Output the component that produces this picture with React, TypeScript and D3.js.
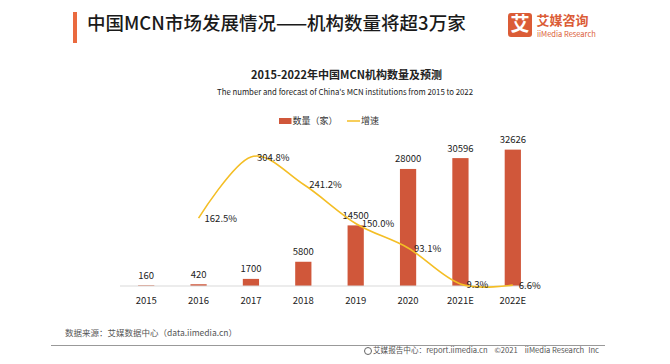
import React from "react";
import * as d3 from "d3";

const years = ["2015", "2016", "2017", "2018", "2019", "2020", "2021E", "2022E"];
const counts = [160, 420, 1700, 5800, 14500, 28000, 30596, 32626];
const growth: (number | null)[] = [null, 162.5, 304.8, 241.2, 150.0, 93.1, 9.3, 6.6];
const growthLabels = ["", "162.5%", "304.8%", "241.2%", "150.0%", "93.1%", "9.3%", "6.6%"];

const W = 670;
const H = 364;
const FONT = '"Noto Sans CJK SC", "Noto Sans", sans-serif';
const BAR = "#D0573A";
const LINE = "#F4BE25";
const BRAND = "#DB5C36";

export default function App() {
  // scales
  const x = d3.scaleBand<string>().domain(years).range([120, 539]).padding(0);
  const yBar = d3.scaleLinear().domain([0, 35000]).range([286, 139.7]);
  const yLine = d3.scaleLinear().domain([0, 350]).range([288, 137.5]);
  const cx = (d: string) => (x(d) as number) + x.bandwidth() / 2;
  const barW = x.bandwidth() * 0.31;

  const pts = years.map((y, i) => ({ y, v: growth[i] }));
  const line = d3
    .line<{ y: string; v: number | null }>()
    .defined((d) => d.v != null)
    .x((d) => cx(d.y))
    .y((d) => yLine(d.v as number))
    .curve(d3.curveCatmullRom.alpha(0));

  return (
    <svg
      width={W}
      height={H}
      style={{ position: "absolute", left: 0, top: 0, background: "#fff" }}
      fontFamily={FONT}
    >
      {/* header */}
      <rect x={73} y={12} width={4} height={31} fill="#EA6A3F" />
      <text x={87} y={25} dominantBaseline="middle" fontSize={18.5} fontWeight={500} fill="#1a1a1a">
        中国MCN市场发展情况——机构数量将超3万家
      </text>
      <rect x={508} y={13} width={24} height={24} rx={3} fill={BRAND} />
      <text x={520} y={26} textAnchor="middle" dominantBaseline="middle" fontSize={19} fontWeight={700} fill="#fff">
        艾
      </text>
      <text x={536.5} y={21} dominantBaseline="middle" fontSize={13} fontWeight={700} fill={BRAND}>
        艾媒咨询
      </text>
      <text x={537} y={34.5} dominantBaseline="middle" fontSize={7.5} fill={BRAND}>
        iiMedia Research
      </text>

      {/* chart titles */}
      <text x={346.5} y={76} textAnchor="middle" dominantBaseline="middle" fontSize={11} fontWeight={700} fill="#222">
        2015-2022年中国MCN机构数量及预测
      </text>
      <text
        x={345}
        y={92.7}
        textAnchor="middle"
        dominantBaseline="middle"
        fontSize={8.2}
        fill="#222"
        textLength={256}
        lengthAdjust="spacingAndGlyphs"
      >
        The number and forecast of China's MCN institutions from 2015 to 2022
      </text>

      {/* legend */}
      <rect x={279} y={118} width={12.5} height={6} fill={BAR} />
      <text x={292.5} y={121.3} dominantBaseline="middle" fontSize={9} fill="#333">
        数量（家）
      </text>
      <line x1={347} x2={360} y1={121} y2={121} stroke={LINE} strokeWidth={1.5} />
      <text x={361} y={121.3} dominantBaseline="middle" fontSize={9} fill="#333">
        增速
      </text>

      {/* bars */}
      {years.map((y, i) => (
        <rect
          key={y}
          x={cx(y) - barW / 2}
          y={yBar(counts[i])}
          width={barW}
          height={yBar(0) - yBar(counts[i])}
          fill={BAR}
        />
      ))}
      <line x1={120} x2={539} y1={286} y2={286} stroke="#D9D9D9" strokeWidth={1} />
      {years.map((y, i) => (
        <text key={"c" + y} x={cx(y)} y={yBar(counts[i]) - 6.5} textAnchor="middle" fontSize={9.5} fill="#222">
          {counts[i]}
        </text>
      ))}

      {/* growth line */}
      <path d={line(pts) || ""} fill="none" stroke={LINE} strokeWidth={1.6} />
      {pts.map((p, i) =>
        p.v == null ? null : (
          <text
            key={"g" + p.y}
            x={cx(p.y) + 6}
            y={yLine(p.v) + 1}
            dominantBaseline="middle"
            fontSize={9.5}
            fill="#222"
          >
            {growthLabels[i]}
          </text>
        )
      )}

      {/* x axis labels */}
      {years.map((y) => (
        <text key={"x" + y} x={cx(y)} y={301} textAnchor="middle" dominantBaseline="middle" fontSize={9.5} fill="#222">
          {y}
        </text>
      ))}

      {/* footer */}
      <text x={65} y={334} dominantBaseline="middle" fontSize={8.5} fill="#555">
        数据来源：艾媒数据中心（data.iimedia.cn）
      </text>
      <line x1={51} x2={605} y1={345.5} y2={345.5} stroke="#999" strokeWidth={1} />
      <circle cx={368} cy={351} r={3.5} fill="none" stroke="#666" strokeWidth={1} />
      <text x={373} y={351} dominantBaseline="middle" fontSize={7.6} fill="#555">
        <tspan>艾媒报告中心：report.iimedia.cn</tspan>
        <tspan dx={7}>©2021</tspan>
        <tspan dx={7}>iiMedia Research</tspan>
        <tspan dx={4}>Inc</tspan>
      </text>
    </svg>
  );
}
